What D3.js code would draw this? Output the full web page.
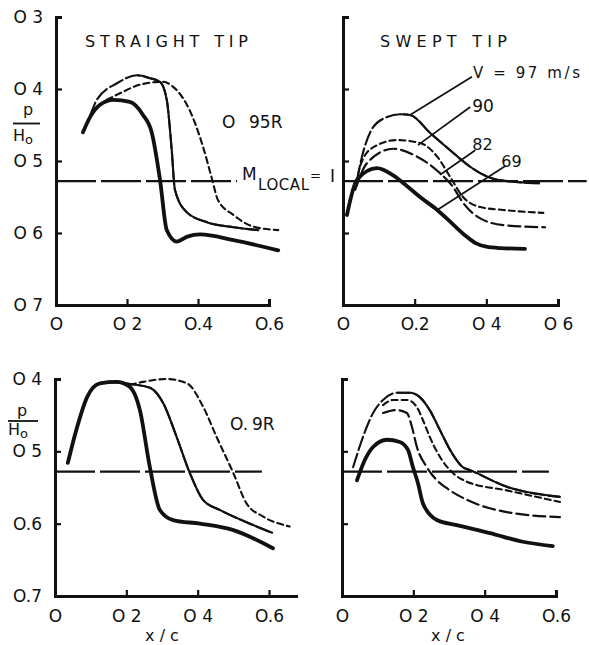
<!DOCTYPE html>
<html>
<head>
<meta charset="utf-8">
<script src="https://cdnjs.cloudflare.com/ajax/libs/d3/7.8.5/d3.min.js"></script>
<style>
  body { margin: 0; background: #fff; }
  svg text { font-family: "DejaVu Sans", sans-serif; fill: #111; }
</style>
</head>
<body>
<svg width="589" height="645"></svg>
<script>
const svg = d3.select("svg");

// p/H0 at which M local = 1
const mLocal = 0.528;

// straight tip, 0.95R  ([x/c, p/H0])
const straight95Thick = [[0.076,0.46],[0.096,0.439],[0.124,0.422],[0.161,0.415],[0.208,0.418],[0.245,0.436],[0.27,0.461],[0.293,0.526],[0.312,0.596],[0.34,0.612],[0.37,0.605],[0.406,0.602],[0.5,0.61],[0.626,0.624]];
const straight95Chain = [[0.076,0.46],[0.096,0.437],[0.115,0.415],[0.172,0.392],[0.228,0.381],[0.265,0.385],[0.293,0.39],[0.312,0.415],[0.326,0.485],[0.335,0.54],[0.368,0.571],[0.425,0.585],[0.5,0.592],[0.57,0.596]];
const straight95Short = [[0.143,0.415],[0.18,0.406],[0.237,0.394],[0.3,0.39],[0.33,0.397],[0.377,0.43],[0.414,0.48],[0.44,0.526],[0.456,0.554],[0.5,0.575],[0.555,0.591],[0.626,0.596]];

// swept tip, 0.95R
const swept95V97 = [[0.039,0.526],[0.053,0.494],[0.084,0.453],[0.123,0.439],[0.159,0.435],[0.187,0.436],[0.243,0.461],[0.299,0.485],[0.355,0.508],[0.391,0.519],[0.43,0.526],[0.55,0.531]];
const swept95V90 = [[0.039,0.533],[0.047,0.508],[0.084,0.481],[0.151,0.471],[0.215,0.475],[0.263,0.494],[0.299,0.522],[0.335,0.55],[0.383,0.564],[0.447,0.568],[0.559,0.572]];
const swept95V82 = [[0.034,0.54],[0.067,0.503],[0.14,0.483],[0.207,0.494],[0.271,0.517],[0.307,0.536],[0.335,0.558],[0.377,0.578],[0.447,0.589],[0.564,0.592]];
const swept95V69 = [[0.011,0.575],[0.039,0.526],[0.095,0.51],[0.14,0.52],[0.179,0.535],[0.215,0.55],[0.263,0.568],[0.307,0.588],[0.34,0.603],[0.37,0.614],[0.4,0.619],[0.44,0.621],[0.508,0.622]];

// straight tip, 0.9R
const straight90Thick = [[0.036,0.516],[0.06,0.47],[0.09,0.425],[0.126,0.406],[0.173,0.404],[0.21,0.411],[0.238,0.443],[0.266,0.522],[0.294,0.581],[0.331,0.595],[0.406,0.6],[0.5,0.609],[0.611,0.634]];
const straight90Chain = [[0.036,0.516],[0.06,0.47],[0.09,0.425],[0.126,0.406],[0.154,0.404],[0.21,0.407],[0.266,0.412],[0.303,0.433],[0.341,0.48],[0.378,0.53],[0.415,0.567],[0.462,0.581],[0.537,0.598],[0.611,0.613]];
const straight90Short = [[0.21,0.408],[0.247,0.404],[0.313,0.4],[0.37,0.406],[0.415,0.438],[0.453,0.48],[0.5,0.53],[0.537,0.572],[0.583,0.59],[0.658,0.604]];

// swept tip, 0.9R
const swept90V97 = [[0.031,0.522],[0.059,0.48],[0.087,0.447],[0.115,0.429],[0.154,0.419],[0.19,0.419],[0.218,0.425],[0.246,0.443],[0.275,0.471],[0.303,0.498],[0.339,0.522],[0.359,0.526],[0.462,0.549],[0.611,0.563]];
const swept90V90 = [[0.115,0.436],[0.143,0.429],[0.182,0.429],[0.21,0.439],[0.227,0.457],[0.246,0.48],[0.275,0.508],[0.311,0.53],[0.35,0.542],[0.462,0.554],[0.611,0.57]];
const swept90V82 = [[0.115,0.447],[0.154,0.443],[0.182,0.447],[0.196,0.466],[0.21,0.494],[0.238,0.522],[0.266,0.54],[0.294,0.551],[0.35,0.567],[0.462,0.584],[0.611,0.591]];
const swept90V69 = [[0.042,0.54],[0.064,0.512],[0.087,0.494],[0.126,0.484],[0.162,0.487],[0.185,0.498],[0.199,0.522],[0.213,0.544],[0.227,0.572],[0.266,0.595],[0.322,0.602],[0.415,0.613],[0.507,0.625],[0.591,0.631]];

// speed labels and their leader lines (swept tip, 0.95R)
const speedLabels = ["V = 97 m/s", "90", "82", "69"];
const speedLeaders = [
  [[0.36,0.383],[0.187,0.436]],
  [[0.355,0.425],[0.209,0.478]],
  [[0.369,0.485],[0.271,0.519]],
  [[0.453,0.507],[0.263,0.568]]
];

// tick labels
const xTicks = [0, 0.2, 0.4, 0.6];
const xLabelsTL = ["O", "O 2", "O.4", "O.6"];
const xLabelsTR = ["O", "O.2", "O 4", "O 6"];
const xLabelsBL = ["O", "O 2", "O 4", "O.6"];
const xLabelsBR = ["O", "O 2", "O 4", "O.6"];
const yTicksTop = [0.3, 0.4, 0.5, 0.6, 0.7];
const yLabelsTop = ["O 3", "O 4", "O 5", "O 6", "O 7"];
const yTicksBottom = [0.4, 0.5, 0.6, 0.7];
const yLabelsBottom = ["O 4", "O 5", "O.6", "O.7"];

const styles = {
  thick: { w: 3.8, dash: null },
  chain: { w: 2.1, dash: "14,4", solidAfterPeak: true },
  short: { w: 2.1, dash: "6,4" },
  long:  { w: 2.2, dash: "12,5" }
};

const panels = [
  { id: "tl", xr: [56, 269], xMax: 0.6, yd: [0.3, 0.7], yr: [17, 305], yTicks: yTicksTop, yLabels: yLabelsTop, xLabels: xLabelsTL, xPad: 13, mEnd: 0.51,
    series: [[straight95Short, "short"], [straight95Chain, "chain"], [straight95Thick, "thick"]] },
  { id: "tr", xr: [343, 558], xMax: 0.6, yd: [0.3, 0.7], yr: [17, 305], yTicks: yTicksTop, yLabels: null, xLabels: xLabelsTR, xPad: 13, mEnd: 0.68,
    series: [[swept95V97, "chain"], [swept95V90, "short"], [swept95V82, "long"], [swept95V69, "thick"]] },
  { id: "bl", xr: [55, 269], xMax: 0.68, yd: [0.4, 0.7], yr: [379, 596], yTicks: yTicksBottom, yLabels: yLabelsBottom, xLabels: xLabelsBL, xPad: 14, mEnd: 0.58,
    series: [[straight90Short, "short"], [straight90Chain, "chain"], [straight90Thick, "thick"]] },
  { id: "br", xr: [342, 556], xMax: 0.6, yd: [0.4, 0.7], yr: [379, 596], yTicks: yTicksBottom, yLabels: null, xLabels: xLabelsBR, xPad: 14, mEnd: 0.58,
    series: [[swept90V97, "chain"], [swept90V90, "short"], [swept90V82, "long"], [swept90V69, "thick"]] }
];

const defs = svg.append("defs");

panels.forEach(p => {
  const x = d3.scaleLinear().domain([0, 0.6]).range(p.xr);
  const y = d3.scaleLinear().domain(p.yd).range(p.yr);
  p.x = x; p.y = y;
  const g = svg.append("g");

  // y axis (ticks point inwards, labels outside)
  const yAxis = d3.axisLeft(y).tickValues(p.yTicks).tickSizeInner(-6).tickSizeOuter(-6).tickPadding(13)
    .tickFormat((d, i) => p.yLabels ? p.yLabels[i] : "");
  const ya = g.append("g").attr("transform", `translate(${x(0)},0)`).call(yAxis);

  // x axis
  const xEnd = x(p.xMax);
  const xs = d3.scaleLinear().domain([0, p.xMax]).range([x(0), xEnd]);
  const xAxis = d3.axisBottom(xs).tickValues(xTicks).tickSizeInner(-6).tickSizeOuter(p.xMax > 0.6 ? 0 : -6).tickPadding(p.xPad)
    .tickFormat((d, i) => p.xLabels[i]);
  const xa = g.append("g").attr("transform", `translate(0,${y(0.7)})`).call(xAxis);

  [ya, xa].forEach(a => {
    a.attr("font-family", null).attr("font-size", 17);
    a.select(".domain").attr("stroke", "#111").attr("stroke-width", 3);
    a.selectAll(".tick line").attr("stroke", "#111").attr("stroke-width", 2.2);
    a.selectAll(".tick text").attr("fill", "#111");
  });

  // M local = 1 line
  g.append("line")
    .attr("x1", x(0)).attr("x2", x(p.mEnd))
    .attr("y1", y(mLocal)).attr("y2", y(mLocal))
    .attr("stroke", "#111").attr("stroke-width", 2.2).attr("stroke-dasharray", "40,5");

  const line = d3.line().x(d => x(d[0])).y(d => y(d[1])).curve(d3.curveMonotoneX);

  p.series.forEach(([data, sty], si) => {
    const s = styles[sty];
    g.append("path").attr("d", line(data))
      .attr("fill", "none").attr("stroke", "#111")
      .attr("stroke-width", s.w).attr("stroke-linecap", "round")
      .attr("stroke-dasharray", s.dash);
    if (s.solidAfterPeak) {
      const peak = d3.least(data, d => d[1]);
      const cid = `clip-${p.id}-${si}`;
      defs.append("clipPath").attr("id", cid).append("rect")
        .attr("x", x(peak[0])).attr("y", 0).attr("width", 600).attr("height", 645);
      g.append("path").attr("d", line(data))
        .attr("fill", "none").attr("stroke", "#111")
        .attr("stroke-width", s.w).attr("clip-path", `url(#${cid})`);
    }
  });
});

// titles
svg.append("text").attr("x", 85).attr("y", 47).attr("font-size", 16)
  .attr("textLength", 163).attr("lengthAdjust", "spacing").text("STRAIGHT TIP");
svg.append("text").attr("x", 380).attr("y", 47).attr("font-size", 16)
  .attr("textLength", 127).attr("lengthAdjust", "spacing").text("SWEPT TIP");

// section labels
const l95 = svg.append("text").attr("y", 128).attr("font-size", 17);
l95.append("tspan").attr("x", 222).text("O");
l95.append("tspan").attr("x", 249).text("95R");
const l90 = svg.append("text").attr("y", 430).attr("font-size", 17);
l90.append("tspan").attr("x", 230).text("O.");
l90.append("tspan").attr("x", 252).text("9R");

// M_LOCAL = 1 label
svg.append("text").attr("x", 242).attr("y", 180).attr("font-size", 17).text("M");
svg.append("text").attr("x", 258).attr("y", 190).attr("font-size", 15)
  .attr("textLength", 51).attr("lengthAdjust", "spacing").text("LOCAL");
svg.append("text").attr("x", 310).attr("y", 180).attr("font-size", 13).text("=");
svg.append("text").attr("x", 330).attr("y", 182).attr("font-size", 17).text("I");

// p / H0 axis titles
[{ cx: 28, py: 115, ly: 123.5, hx: 13, hy: 141, l1: 13, l2: 40 },
 { cx: 22, py: 416, ly: 421, hx: 8, hy: 435, l1: 8, l2: 38 }].forEach(t => {
  svg.append("text").attr("x", t.cx).attr("y", t.py).attr("font-size", 16).attr("text-anchor", "middle").text("p");
  svg.append("line").attr("x1", t.l1).attr("x2", t.l2).attr("y1", t.ly).attr("y2", t.ly)
    .attr("stroke", "#111").attr("stroke-width", 1.8);
  const h = svg.append("text").attr("x", t.hx).attr("y", t.hy).attr("font-size", 16);
  h.append("tspan").text("H");
  h.append("tspan").attr("font-size", 13).attr("dy", 3).text("o");
});

// x/c titles
[162, 448].forEach(cx => {
  svg.append("text").attr("x", cx).attr("y", 641).attr("font-size", 16)
    .attr("text-anchor", "middle").text("x / c");
});

// speed leaders (swept tip, 0.95R)
const tr = panels[1];
const labelOff = [[1, 1], [2, 5], [-3, 0], [-4, 1]];
const labelSize = [15, 17, 16, 16];
speedLeaders.forEach((ld, i) => {
  svg.append("line")
    .attr("x1", tr.x(ld[0][0])).attr("y1", tr.y(ld[0][1]))
    .attr("x2", tr.x(ld[1][0])).attr("y2", tr.y(ld[1][1]))
    .attr("stroke", "#111").attr("stroke-width", 1.7);
  const t = svg.append("text")
    .attr("x", tr.x(ld[0][0]) + labelOff[i][0])
    .attr("y", tr.y(ld[0][1]) + labelOff[i][1])
    .attr("font-size", labelSize[i]).text(speedLabels[i]);
  if (i === 0) t.attr("textLength", 107).attr("lengthAdjust", "spacing");
});
</script>
</body>
</html>
